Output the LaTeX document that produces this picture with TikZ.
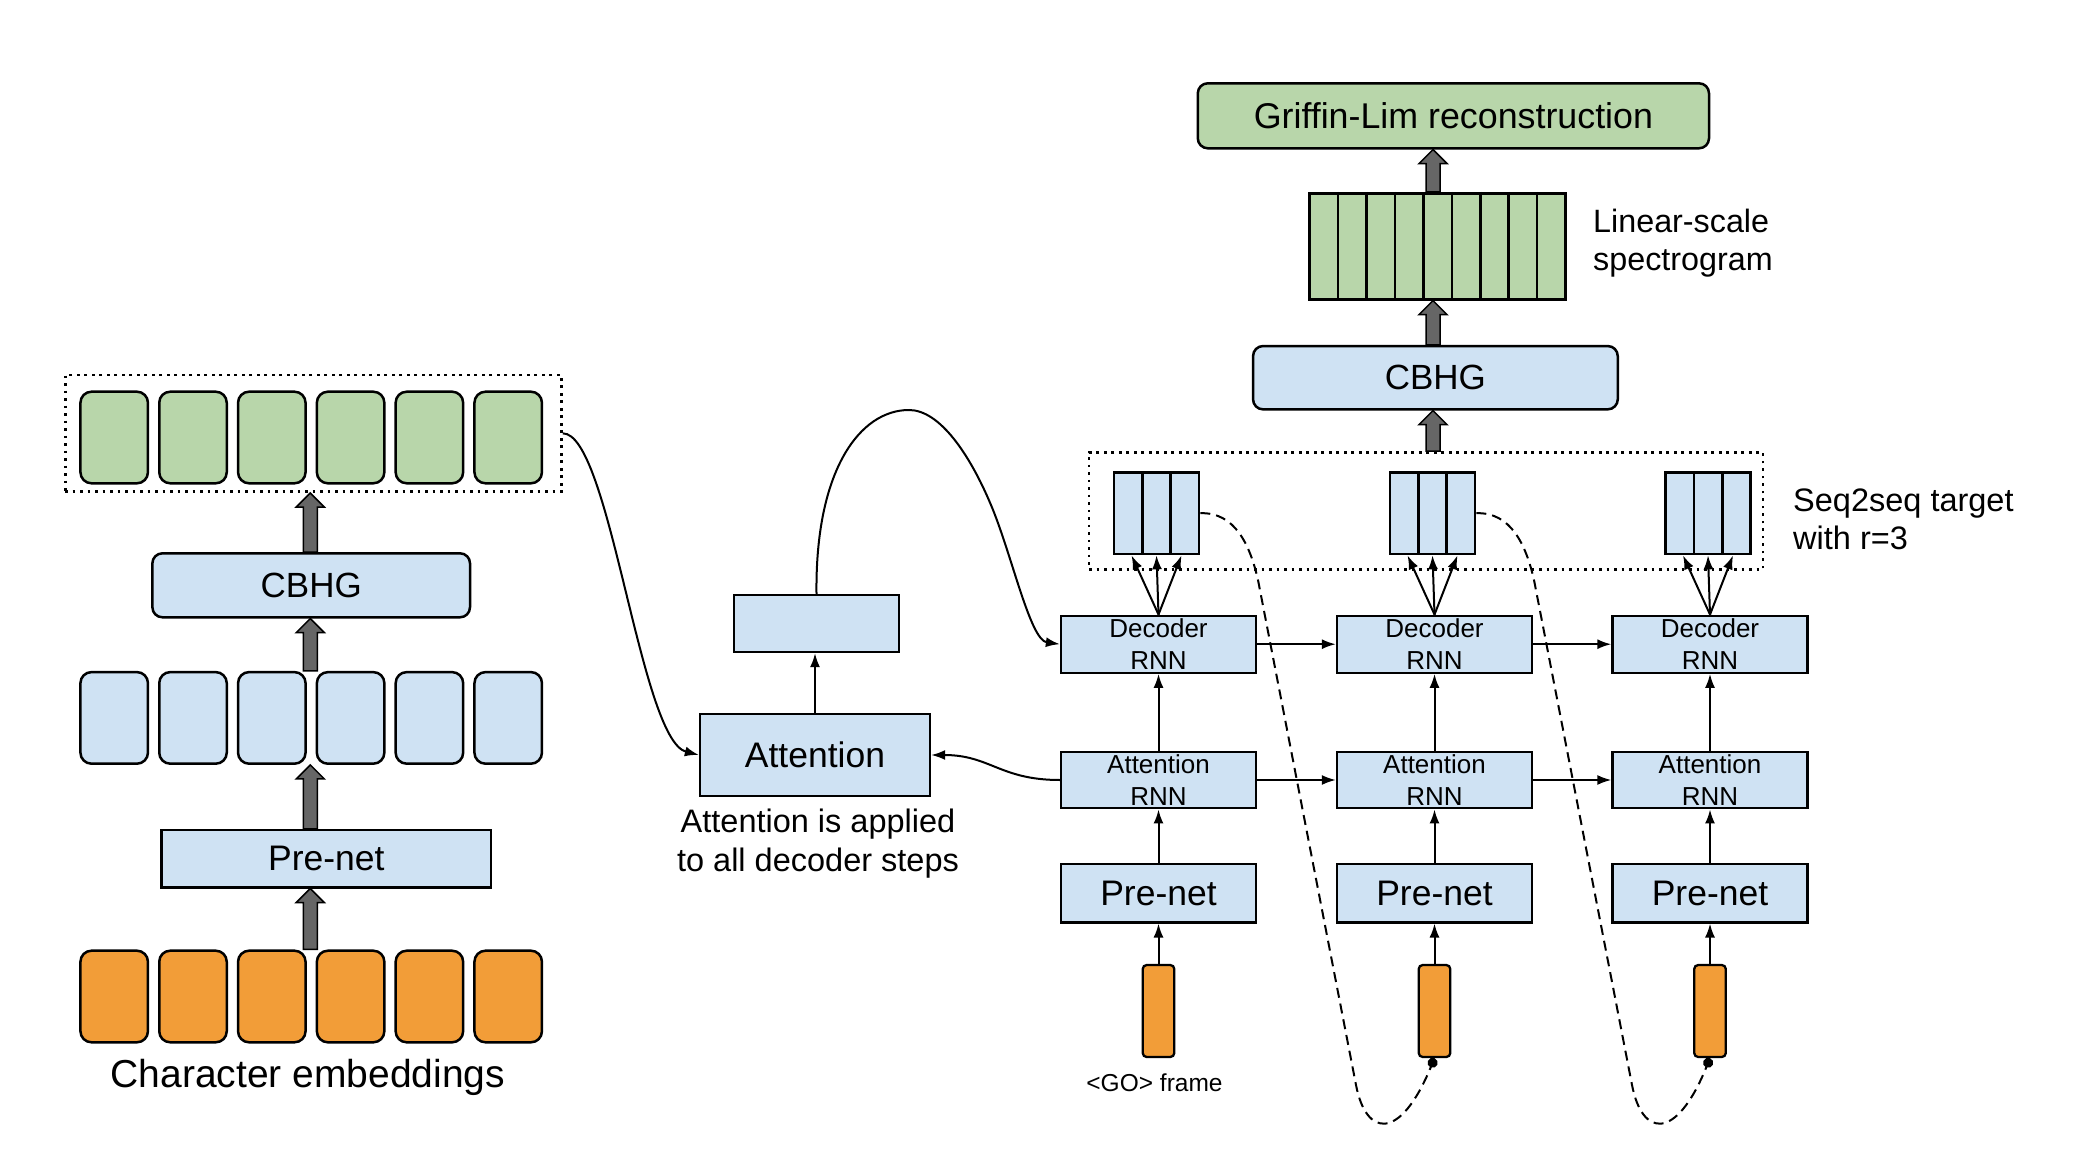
\documentclass[tikz,border=0pt]{standalone}
\usepackage{fontspec}
\setmainfont{Liberation Sans}
\usetikzlibrary{arrows.meta}
\definecolor{boxgreen}{HTML}{B8D6AA}
\definecolor{boxblue}{HTML}{CFE2F3}
\definecolor{boxorange}{HTML}{F29D38}
\definecolor{fatgray}{HTML}{666666}
\newcommand{\fatup}[2]{%
  \path (#1) coordinate (fas) (#2) coordinate (fat);
  \filldraw[fatstyle] ([xshift=-7pt]fas) -- ([xshift=-7pt,yshift=-14pt]fat)
    -- ([xshift=-14pt,yshift=-14pt]fat) -- (fat) -- ([xshift=14pt,yshift=-14pt]fat)
    -- ([xshift=7pt,yshift=-14pt]fat) -- ([xshift=7pt]fas) -- cycle;}
\tikzset{
  cell/.style={draw=black, line width=2.5pt, rounded corners=11pt, minimum width=67.5pt, minimum height=91.6pt, inner sep=0pt},
  rbox/.style={draw=black, line width=2.5pt, rounded corners=10pt, fill=boxblue, inner sep=0pt, font=\fontsize{35}{42}\selectfont},
  sbox/.style={draw=black, line width=2.3pt, fill=boxblue, inner sep=0pt, font=\fontsize{35.5}{42}\selectfont},
  rnnbox/.style={draw=black, line width=2.3pt, fill=boxblue, inner sep=0pt, minimum width=195pt, align=center, font=\fontsize{26}{31.6}\selectfont},
  dotbox/.style={draw=black, line width=2.6pt, dash pattern=on 2.6pt off 4.9pt, inner sep=0pt},
  fatstyle/.style={fill=fatgray, draw=black, line width=1.5pt, line join=miter},
  arr/.style={line width=2pt, -{Latex[length=14pt,width=10pt]}},
  dasharr/.style={line width=2pt, dash pattern=on 10pt off 6pt, -{Circle[length=10pt,width=10pt]}},
  stripe/.style={line width=2.6pt},
  lab/.style={inner sep=0pt, font=\fontsize{32.5}{38.3}\selectfont}
}
\begin{document}
\begin{tikzpicture}[x=1pt, y=-1pt]
\useasboundingbox (0,0) rectangle (2086,1150);
% ---------------- encoder (left) ----------------
\node[dotbox, minimum width=496.3pt, minimum height=116.7pt] (enc) at (313.35,433.35) {};
\foreach \i in {1,...,6}{
  \node[cell, fill=boxgreen] (g\i) at ({114.2+78.8*(\i-1)},437.5) {};
  \node[cell, fill=boxblue] (b\i) at ({114.2+78.8*(\i-1)},717.9) {};
  \node[cell, fill=boxorange] (o\i) at ({114.2+78.8*(\i-1)},996.5) {};
}
\node[rbox, minimum width=317.6pt, minimum height=64pt] (cbhgL) at (311.2,585.3) {CBHG};
\node[sbox, minimum width=329.4pt, minimum height=57.3pt] (preL) at (326.3,858.7) {Pre-net};
\node[anchor=base, inner sep=0pt, font=\fontsize{39}{46}\selectfont] (charemb) at (308,1087) {Character embeddings};
\coordinate (ax) at (310.3,0);
\fatup{cbhgL.north -| ax}{enc.south -| ax}
\fatup{b1.north -| ax}{cbhgL.south -| ax}
\fatup{preL.north -| ax}{b1.south -| ax}
\fatup{o1.north -| ax}{preL.south -| ax}
% ---------------- attention (middle) ----------------
\node[sbox, minimum width=230pt, minimum height=82pt] (attn) at (815,755) {Attention};
\node[sbox, minimum width=165pt, minimum height=57pt] (ctx) at (816.5,623.5) {};
\node[anchor=north, align=center, lab] (note) at (818,809) {Attention is applied\\to all decoder steps};
\draw[arr] (attn.north) -- (attn.north |- ctx.south);
\draw[arr] (enc.east) .. controls (610,433) and (640,740) .. (attn.west);
% ---------------- decoder (right) ----------------
\node[dotbox, minimum width=674pt, minimum height=117pt] (tgt) at (1426,510.8) {};
\foreach \c/\n in {1158.5/1,1434.5/2,1710/3}{
  \node[rnnbox, minimum height=57pt] (dec\n) at (\c,644.2) {Decoder\\RNN};
  \node[rnnbox, minimum height=56.6pt] (arnn\n) at (\c,780) {Attention\\RNN};
  \node[sbox, minimum width=195pt, minimum height=58.3pt] (pre\n) at (\c,893.2) {Pre-net};
  \node[draw=black, line width=2.3pt, fill=boxorange, rounded corners=4pt, minimum width=31.6pt, minimum height=92pt, inner sep=0pt] (fo\n) at (\c,1011) {};
  \node[draw=black, line width=2.6pt, fill=boxblue, minimum width=85pt, minimum height=81.7pt, inner sep=0pt] (t\n) at (\c-2,513.2) {};
  \draw[stripe] ([xshift=-14.2pt]t\n.north) -- ([xshift=-14.2pt]t\n.south);
  \draw[stripe] ([xshift=14.2pt]t\n.north) -- ([xshift=14.2pt]t\n.south);
  \draw[arr] (dec\n.north) -- ([xshift=-25pt]t\n.south);
  \draw[arr] (dec\n.north) -- (t\n.south);
  \draw[arr] (dec\n.north) -- ([xshift=25pt]t\n.south);
  \draw[arr] (arnn\n.north) -- (dec\n.south);
  \draw[arr] (pre\n.north) -- (arnn\n.south);
  \draw[arr] (fo\n.north) -- (pre\n.south);
}
\draw[arr] (dec1.east) -- (dec2.west);
\draw[arr] (dec2.east) -- (dec3.west);
\draw[arr] (arnn1.east) -- (arnn2.west);
\draw[arr] (arnn2.east) -- (arnn3.west);
\draw[arr] (arnn1.west) .. controls (1000,780) and (990,755) .. (attn.east);
\draw[arr] (ctx.north) .. controls (815,470) and (860,410) .. (909,410)
   .. controls (940,410) and (970,455) .. (991,505)
   .. controls (1012,555) and (1030,640) .. (dec1.west);
\draw[dasharr] (t1.east) .. controls (1235,512) and (1250,545) .. (1258,580)
   -- (1356,1085) .. controls (1366,1137) and (1400,1142) .. (fo2.south);
\draw[dasharr] (t2.east) .. controls (1511,512) and (1526,545) .. (1534,580)
   -- (1632,1085) .. controls (1642,1137) and (1676,1142) .. (fo3.south);
\node[anchor=base, inner sep=0pt, font=\fontsize{24.5}{29}\selectfont] (golab) at (1154.5,1091.7) {<GO> frame};
\node[anchor=north west, align=left, lab] (seqlab) at (1793,488.5) {Seq2seq target\\with r=3};
% ---------------- post-net (top right) ----------------
\node[rbox, minimum width=364.7pt, minimum height=63.3pt] (cbhgR) at (1435.4,377.7) {CBHG};
\node[draw=black, line width=2.6pt, fill=boxgreen, minimum width=255.8pt, minimum height=106pt, inner sep=0pt] (spec) at (1437.6,246.3) {};
\foreach \k in {1,...,8}{
  \draw[stripe] ([xshift={(\k-4.5)*28.42pt}]spec.north) -- ([xshift={(\k-4.5)*28.42pt}]spec.south);
}
\node[rbox, fill=boxgreen, minimum width=511.2pt, minimum height=65pt, font=\fontsize{35.8}{42}\selectfont] (griffin) at (1453.4,115.8) {Griffin-Lim reconstruction};
\node[anchor=north west, align=left, lab, font=\fontsize{32.3}{38.3}\selectfont] (linlab) at (1593,208.5) {Linear-scale\\spectrogram};
\coordinate (rx) at (1433,0);
\fatup{tgt.north -| rx}{cbhgR.south -| rx}
\fatup{cbhgR.north -| rx}{spec.south -| rx}
\fatup{spec.north -| rx}{griffin.south -| rx}
\end{tikzpicture}
\end{document}
